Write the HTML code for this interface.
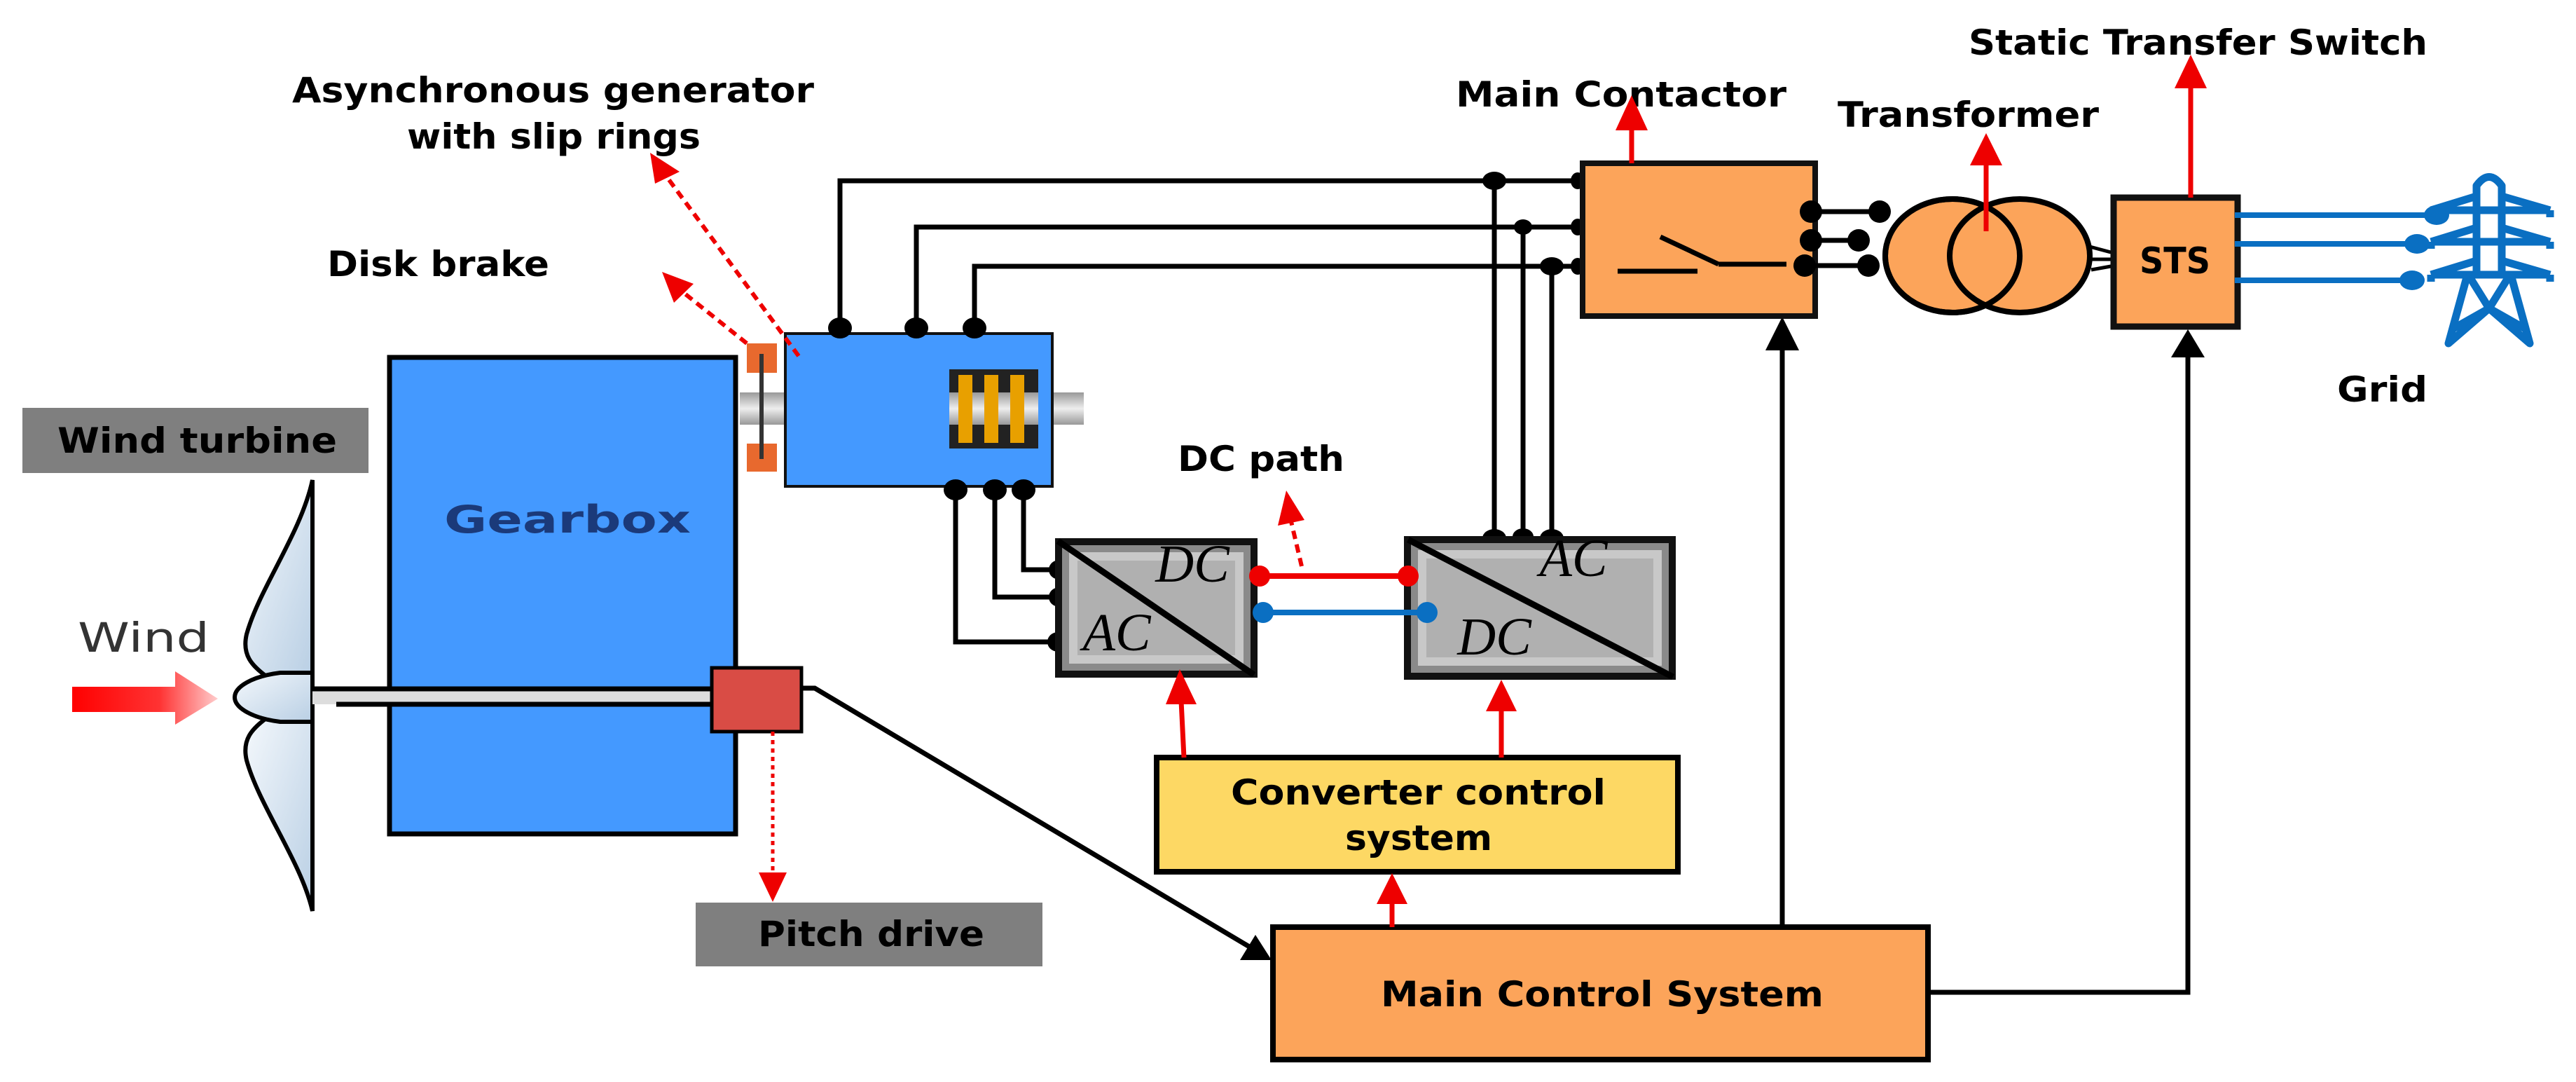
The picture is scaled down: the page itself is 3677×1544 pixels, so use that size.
<!DOCTYPE html>
<html><head><meta charset="utf-8"><style>
html,body{margin:0;padding:0;background:#fff}
svg{display:block}
text{font-family:"DejaVu Sans","Liberation Sans",sans-serif;font-weight:bold}
.s{font-family:"Liberation Serif",serif;font-weight:normal;font-style:italic}
</style></head><body>
<svg width="3677" height="1544" viewBox="0 0 3677 1544" xmlns="http://www.w3.org/2000/svg">
<defs>
<linearGradient id="wg" x1="0" x2="1" y1="0" y2="0"><stop offset="0" stop-color="#f00"/><stop offset="0.6" stop-color="#f33"/><stop offset="1" stop-color="#fcc"/></linearGradient>
<linearGradient id="sh" x1="0" x2="0" y1="0" y2="1"><stop offset="0" stop-color="#999"/><stop offset="0.5" stop-color="#eee"/><stop offset="1" stop-color="#999"/></linearGradient>
<linearGradient id="bl" x1="0" x2="1" y1="0" y2="1"><stop offset="0" stop-color="#f4f8fc"/><stop offset="1" stop-color="#b9cfe4"/></linearGradient>
</defs>

<!-- texts -->
<text x="417" y="146" font-size="50" textLength="745" lengthAdjust="spacingAndGlyphs">Asynchronous generator</text>
<text x="581" y="212" font-size="50" textLength="419" lengthAdjust="spacingAndGlyphs">with slip rings</text>
<text x="467" y="394" font-size="50" textLength="317" lengthAdjust="spacingAndGlyphs">Disk brake</text>
<text x="1681" y="672" font-size="50" textLength="238" lengthAdjust="spacingAndGlyphs">DC path</text>
<text x="2078" y="152" font-size="50" textLength="472" lengthAdjust="spacingAndGlyphs">Main Contactor</text>
<text x="2623" y="181" font-size="50" textLength="373" lengthAdjust="spacingAndGlyphs">Transformer</text>
<text x="2810" y="78" font-size="50" textLength="655" lengthAdjust="spacingAndGlyphs">Static Transfer Switch</text>
<text x="3336" y="573" font-size="50" textLength="129" lengthAdjust="spacingAndGlyphs">Grid</text>

<!-- wind turbine label -->
<rect x="32" y="582" width="494" height="93" fill="#7f7f7f"/>
<text x="82" y="646" font-size="50" textLength="399" lengthAdjust="spacingAndGlyphs">Wind turbine</text>

<!-- gearbox -->
<rect x="556" y="510" width="494" height="680" fill="#4499ff" stroke="#000" stroke-width="7"/>
<text x="634" y="760" font-size="54" textLength="352" lengthAdjust="spacingAndGlyphs" fill="#1b3a7a">Gearbox</text>

<!-- wind -->
<text x="111" y="930" font-size="58" textLength="188" lengthAdjust="spacingAndGlyphs" fill="#333" style="font-weight:normal">Wind</text>
<polygon points="103,980 250,980 250,958 311,997 250,1034 250,1016 103,1016" fill="url(#wg)"/>

<!-- blades -->
<path d="M446,685 C430,760 370,840 352,905 C345,935 360,950 380,965 L446,965 Z" fill="url(#bl)" stroke="#000" stroke-width="6"/>
<path d="M446,1300 C430,1230 370,1150 352,1085 C345,1055 360,1040 380,1025 L446,1025 Z" fill="url(#bl)" stroke="#000" stroke-width="6"/>
<path d="M446,960 L400,960 C360,965 335,980 335,995 C335,1010 360,1025 400,1030 L446,1030 Z" fill="url(#bl)" stroke="#000" stroke-width="6"/>

<!-- shaft -->
<rect x="446" y="983" width="570" height="22" fill="#ddd"/>
<line x1="446" y1="983" x2="1016" y2="983" stroke="#000" stroke-width="7"/>
<line x1="480" y1="1005" x2="1016" y2="1005" stroke="#000" stroke-width="7"/>

<!-- pitch box -->
<rect x="1016" y="953" width="128" height="91" fill="#d94c45" stroke="#000" stroke-width="5"/>
<line x1="1103" y1="1044" x2="1103" y2="1250" stroke="#e00" stroke-width="5" stroke-dasharray="6,6"/>
<polygon points="1083,1245 1123,1245 1103,1287" fill="#e00"/>
<rect x="993" y="1288" width="495" height="91" fill="#7f7f7f"/>
<text x="1082" y="1350" font-size="50" textLength="323" lengthAdjust="spacingAndGlyphs">Pitch drive</text>

<!-- pitch to MCS -->
<polyline points="1144,982 1163,982 1785,1352" fill="none" stroke="#000" stroke-width="7"/>
<polygon points="1815,1370 1770,1370 1792,1334" fill="#000"/>

<!-- disk brake & generator -->
<rect x="1056" y="560" width="491" height="46" fill="url(#sh)"/>
<rect x="1066" y="490" width="43" height="42" fill="#e8692e"/>
<rect x="1066" y="633" width="43" height="40" fill="#e8692e"/>
<line x1="1087" y1="505" x2="1087" y2="655" stroke="#333" stroke-width="6"/>
<rect x="1121" y="476" width="381" height="218" fill="#4499ff" stroke="#111" stroke-width="4"/>
<rect x="1355" y="527" width="127" height="113" fill="#222"/>
<rect x="1355" y="560" width="127" height="46" fill="url(#sh)"/>
<rect x="1368" y="535" width="20" height="97" fill="#e8a000"/>
<rect x="1405" y="535" width="20" height="97" fill="#e8a000"/>
<rect x="1442" y="535" width="20" height="97" fill="#e8a000"/>

<!-- red dashed annotation arrows -->
<line x1="1066" y1="490" x2="975" y2="417" stroke="#e00" stroke-width="6" stroke-dasharray="12,8"/>
<polygon points="945,388 990,405 962,432" fill="#e00"/>
<line x1="1140" y1="508" x2="950" y2="250" stroke="#e00" stroke-width="6" stroke-dasharray="12,8"/>
<polygon points="928,218 970,245 935,262" fill="#e00"/>

<!-- generator lines -->
<g fill="none" stroke="#000" stroke-width="7">
<polyline points="1199,468 1199,258 2257,258"/>
<polyline points="1308,468 1308,324 2257,324"/>
<polyline points="1391,468 1391,380 2257,380"/>
<polyline points="1364,699 1364,916 1510,916"/>
<polyline points="1420,699 1420,852 1510,852"/>
<polyline points="1461,699 1461,813 1510,813"/>
<line x1="2133" y1="258" x2="2133" y2="768"/>
<line x1="2174" y1="324" x2="2174" y2="768"/>
<line x1="2215" y1="380" x2="2215" y2="768"/>
</g>
<g fill="#000">
<ellipse cx="1199" cy="468" rx="17" ry="15"/><ellipse cx="1308" cy="468" rx="17" ry="15"/><ellipse cx="1391" cy="468" rx="17" ry="15"/>
<ellipse cx="1364" cy="699" rx="17" ry="15"/><ellipse cx="1420" cy="699" rx="17" ry="15"/><ellipse cx="1461" cy="699" rx="17" ry="15"/>
<ellipse cx="1512" cy="813" rx="15" ry="14"/><ellipse cx="1512" cy="852" rx="15" ry="14"/><ellipse cx="1510" cy="916" rx="15" ry="14"/>
<ellipse cx="2133" cy="258" rx="17" ry="13"/><ellipse cx="2174" cy="324" rx="13" ry="11"/><ellipse cx="2215" cy="380" rx="17" ry="13"/>
<ellipse cx="2133" cy="768" rx="17" ry="13"/><ellipse cx="2174" cy="766" rx="15" ry="12"/><ellipse cx="2215" cy="768" rx="17" ry="13"/>
<ellipse cx="2252" cy="258" rx="10" ry="12"/><ellipse cx="2252" cy="324" rx="10" ry="12"/><ellipse cx="2252" cy="380" rx="10" ry="12"/>
</g>

<!-- converter 1 -->
<rect x="1506" y="768" width="289" height="199" fill="#111"/>
<rect x="1516" y="778" width="269" height="179" fill="#8a8a8a"/>
<rect x="1526" y="788" width="249" height="159" fill="#c8c8c8"/>
<rect x="1538" y="800" width="225" height="135" fill="#b0b0b0"/>
<line x1="1510" y1="772" x2="1790" y2="963" stroke="#000" stroke-width="9"/>
<text class="s" x="1702" y="830" font-size="76" text-anchor="middle">DC</text>
<text class="s" x="1594" y="928" font-size="76" text-anchor="middle">AC</text>

<!-- converter 2 -->
<rect x="2004" y="765" width="388" height="205" fill="#111"/>
<rect x="2014" y="775" width="368" height="185" fill="#8a8a8a"/>
<rect x="2024" y="785" width="348" height="165" fill="#c8c8c8"/>
<rect x="2036" y="797" width="324" height="141" fill="#b0b0b0"/>
<line x1="2010" y1="770" x2="2388" y2="966" stroke="#000" stroke-width="9"/>
<text class="s" x="2246" y="822" font-size="76" text-anchor="middle">AC</text>
<text class="s" x="2133" y="934" font-size="76" text-anchor="middle">DC</text>

<!-- DC links -->
<line x1="1795" y1="822" x2="2010" y2="822" stroke="#e00" stroke-width="8"/>
<line x1="1795" y1="874" x2="2037" y2="874" stroke="#0a6fc2" stroke-width="8"/>
<circle cx="1798" cy="822" r="15" fill="#e00"/><circle cx="2010" cy="822" r="15" fill="#e00"/>
<circle cx="1803" cy="874" r="15" fill="#0a6fc2"/><circle cx="2037" cy="874" r="15" fill="#0a6fc2"/>
<line x1="1858" y1="808" x2="1842" y2="740" stroke="#e00" stroke-width="6" stroke-dasharray="12,8"/>
<polygon points="1824,750 1862,742 1836,700" fill="#e00"/>

<!-- converter control system -->
<rect x="1651" y="1081" width="744" height="163" fill="#fdd864" stroke="#000" stroke-width="8"/>
<text x="1757" y="1148" font-size="50" textLength="535" lengthAdjust="spacingAndGlyphs">Converter control</text>
<text x="1920" y="1213" font-size="50" textLength="210" lengthAdjust="spacingAndGlyphs">system</text>
<line x1="1690" y1="1081" x2="1686" y2="1000" stroke="#e00" stroke-width="7"/>
<polygon points="1664,1005 1708,1005 1684,955" fill="#e00"/>
<line x1="2143" y1="1081" x2="2143" y2="1010" stroke="#e00" stroke-width="7"/>
<polygon points="2121,1015 2165,1015 2143,970" fill="#e00"/>

<!-- MCS -->
<rect x="1817" y="1323" width="935" height="189" fill="#fca45a" stroke="#000" stroke-width="8"/>
<text x="1971" y="1436" font-size="50" textLength="632" lengthAdjust="spacingAndGlyphs">Main Control System</text>
<line x1="1987" y1="1323" x2="1987" y2="1285" stroke="#e00" stroke-width="7"/>
<polygon points="1965,1290 2009,1290 1987,1246" fill="#e00"/>
<line x1="2544" y1="1323" x2="2544" y2="495" stroke="#000" stroke-width="7"/>
<polygon points="2520,500 2568,500 2544,452" fill="#000"/>
<polyline points="2752,1416 3123,1416 3123,505" fill="none" stroke="#000" stroke-width="7"/>
<polygon points="3099,510 3147,510 3123,470" fill="#000"/>

<!-- main contactor -->
<rect x="2259" y="233" width="332" height="218" fill="#fca45a" stroke="#111" stroke-width="8"/>
<line x1="2309" y1="387" x2="2423" y2="387" stroke="#000" stroke-width="7"/>
<line x1="2370" y1="338" x2="2453" y2="377" stroke="#000" stroke-width="7"/>
<line x1="2453" y1="377" x2="2550" y2="377" stroke="#000" stroke-width="7"/>
<line x1="2329" y1="233" x2="2329" y2="180" stroke="#e00" stroke-width="7"/>
<polygon points="2306,186 2352,186 2329,136" fill="#e00"/>

<!-- contactor to transformer -->
<g stroke="#000" stroke-width="7"><line x1="2582" y1="302" x2="2683" y2="302"/><line x1="2582" y1="343" x2="2653" y2="343"/><line x1="2576" y1="379" x2="2667" y2="379"/></g>
<g fill="#000"><circle cx="2585" cy="302" r="16"/><circle cx="2683" cy="302" r="16"/><circle cx="2585" cy="343" r="16"/><circle cx="2653" cy="343" r="16"/><circle cx="2576" cy="379" r="16"/><circle cx="2667" cy="379" r="16"/></g>

<!-- transformer -->
<ellipse cx="2787" cy="365" rx="96" ry="81" fill="#fca45a" stroke="#000" stroke-width="8"/>
<ellipse cx="2883" cy="365" rx="100" ry="81" fill="#fca45a" stroke="#000" stroke-width="8"/>
<ellipse cx="2787" cy="365" rx="96" ry="81" fill="none" stroke="#000" stroke-width="8"/>
<line x1="2835" y1="330" x2="2835" y2="230" stroke="#e00" stroke-width="7"/>
<polygon points="2812,236 2858,236 2835,190" fill="#e00"/>
<g stroke="#000" stroke-width="5"><line x1="2983" y1="352" x2="3013" y2="360"/><line x1="2985" y1="370" x2="3013" y2="370"/><line x1="2985" y1="385" x2="3013" y2="380"/></g>

<!-- STS -->
<rect x="3017" y="282" width="177" height="184" fill="#fca45a" stroke="#111" stroke-width="9"/>
<text x="3054" y="390" font-size="52" textLength="101" lengthAdjust="spacingAndGlyphs">STS</text>
<line x1="3127" y1="282" x2="3127" y2="120" stroke="#e00" stroke-width="7"/>
<polygon points="3104,126 3150,126 3127,78" fill="#e00"/>
<g stroke="#0a6fc2" stroke-width="8"><line x1="3190" y1="307" x2="3478" y2="307"/><line x1="3190" y1="348" x2="3450" y2="348"/><line x1="3190" y1="400" x2="3443" y2="400"/></g>
<g fill="#0a6fc2"><ellipse cx="3478" cy="307" rx="18" ry="14"/><ellipse cx="3450" cy="348" rx="18" ry="14"/><ellipse cx="3443" cy="400" rx="18" ry="14"/></g>

<!-- tower -->
<g fill="none" stroke="#0a6fc2" stroke-width="11" stroke-linejoin="round">
<path d="M3535,390 L3535,265 Q3553,240 3571,265 L3571,390"/>
<path d="M3470,300 L3535,280 M3571,280 L3640,300 M3470,300 L3640,300 M3470,300 L3470,310 M3640,300 L3640,310"/>
<path d="M3470,345 L3535,325 M3571,325 L3640,345 M3470,345 L3640,345 M3470,345 L3470,355 M3640,345 L3640,355"/>
<path d="M3470,392 L3535,372 M3571,372 L3640,392 M3470,392 L3640,392 M3470,392 L3470,402 M3640,392 L3640,402"/>
<path d="M3522,392 L3495,490 L3553,440 L3611,490 L3584,392"/>
<path d="M3525,395 L3553,440 L3581,395"/>
<path d="M3500,470 L3553,440 L3606,470"/>
</g>
</svg>
</body></html>
